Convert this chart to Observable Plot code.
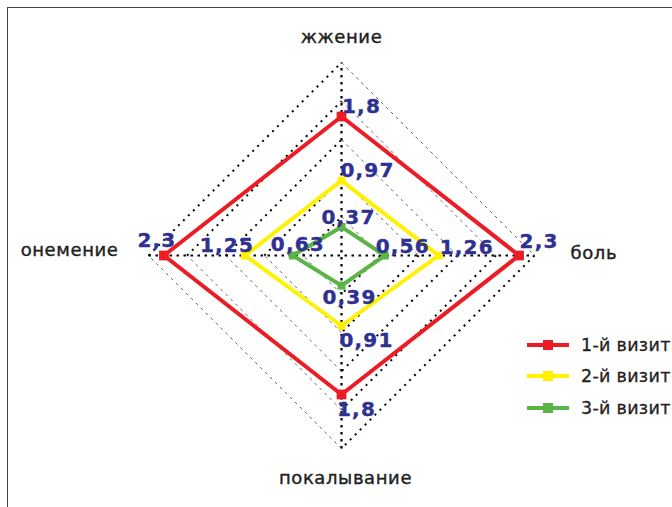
<!DOCTYPE html>
<html><head><meta charset="utf-8">
<script src="https://cdn.jsdelivr.net/npm/d3@7"></script>
<script src="https://cdn.jsdelivr.net/npm/@observablehq/plot@0.6"></script>
<style>
html,body{margin:0;padding:0;background:#fff;}
#wrap{position:relative;width:672px;height:507px;overflow:hidden;}
#frame{position:absolute;left:7px;top:7px;width:700px;height:540px;border:1.5px solid #444;box-sizing:border-box;}
#chart{position:absolute;left:0;top:0;}
#legend{position:absolute;left:527px;top:329px;font-family:"DejaVu Sans",sans-serif;font-size:17.5px;letter-spacing:0.3px;color:#231f20;-webkit-text-stroke:0.3px #231f20;}
.row{display:flex;align-items:center;height:31.5px;white-space:nowrap;}
.sw{position:relative;width:42px;height:4px;margin-right:12px;flex:none;}
.sw i{position:absolute;left:16px;top:-3px;width:10px;height:10px;}
.lbl text{letter-spacing:1.2px;}
.ax text{letter-spacing:0.6px;}
</style></head>
<body>
<div id="wrap"><div id="frame"></div><div id="chart"></div><div id="legend"></div></div>
<script>
const axes = ["жжение", "боль", "покалывание", "онемение"];
const series = ["1-й визит", "2-й визит", "3-й визит"];
const visit1 = [1.8, 2.3, 1.8, 2.3];
const visit2 = [0.97, 1.26, 0.91, 1.25];
const visit3 = [0.37, 0.56, 0.39, 0.63];
const rings = [0.5, 1, 1.5, 2, 2.5];
const colors = ["#ED1C24", "#FFF100", "#5BB546"];

const maxR = 2.5;
const dirs = [[0, 1], [1, 0], [0, -1], [-1, 0]]; // top, right, bottom, left
const values = [visit1, visit2, visit3];

const pts = [];
values.forEach((vals, s) => vals.forEach((v, i) => pts.push({series: series[s], s, i, v, x: dirs[i][0]*v, y: dirs[i][1]*v})));
const lineData = [];
values.forEach((vals, s) => {
  [0,1,2,3,0].forEach(i => lineData.push({series: series[s], x: dirs[i][0]*vals[i], y: dirs[i][1]*vals[i]}));
});

const heavySeg = [], lightSeg = [];
rings.forEach(r => {
  for (let i = 0; i < 4; i++) {
    const a = dirs[(i + 3) % 4], b = dirs[i];
    const seg = {x1: a[0]*r, y1: a[1]*r, x2: b[0]*r, y2: b[1]*r};
    if (i === 0 || i === 2) heavySeg.push(seg); else lightSeg.push(seg);
  }
});
const spokes = [{x1: 0, y1: -maxR, x2: 0, y2: maxR}, {x1: -maxR, y1: 0, x2: maxR, y2: 0}];

const labelLayout = [
  [[20,-10],[20,-14],[15,15],[-7,-15]],
  [[26,-10],[28,-8],[25,15],[-18,-10]],
  [[7,-9],[18,-9],[8,12],[5,-11]]
];
const fmt = v => String(v).replace(".", ",");

const marks = [
  Plot.link(lightSeg, {x1:"x1", y1:"y1", x2:"x2", y2:"y2", stroke:"#444", strokeWidth:0.8, strokeDasharray:"3,4"}),
  Plot.link(heavySeg, {x1:"x1", y1:"y1", x2:"x2", y2:"y2", stroke:"#000", strokeWidth:2, strokeDasharray:"2,5"}),
  Plot.link(spokes, {x1:"x1", y1:"y1", x2:"x2", y2:"y2", stroke:"#000", strokeWidth:2.2, strokeDasharray:"2.5,4.5"}),
];
series.forEach((name, s) => {
  marks.push(Plot.line(lineData.filter(d => d.series === name), {x:"x", y:"y", stroke: colors[s], strokeWidth:4, strokeLinejoin:"miter"}));
});
series.forEach((name, s) => {
  marks.push(Plot.dot(pts.filter(d => d.s === s), {x:"x", y:"y", symbol:"square", r: s === 0 ? 5.5 : 4.5, fill: colors[s], stroke: "none"}));
});
pts.forEach(d => {
  const [dx, dy] = labelLayout[d.s][d.i];
  marks.push(Plot.text([d], {x:"x", y:"y", text: e => fmt(e.v), dx, dy, fill:"#2E3192", stroke:"#2E3192", strokeWidth:0.4, fontSize:20, fontWeight:"bold", fontFamily:"DejaVu Sans", textAnchor:"middle", className:"lbl"}));
});
const axisLayout = [[0,-25,"middle"],[36,-2,"start"],[4,30,"middle"],[-30,-5,"end"]];
axes.forEach((name, i) => {
  const [dx, dy, anchor] = axisLayout[i];
  marks.push(Plot.text([{x: dirs[i][0]*maxR, y: dirs[i][1]*maxR, t: name}], {x:"x", y:"y", text:"t", dx, dy, textAnchor: anchor, fill:"#231f20", stroke:"#231f20", strokeWidth:0.4, fontSize:18, fontFamily:"DejaVu Sans", className:"ax"}));
});

const chart = Plot.plot({
  width: 672, height: 507,
  margin: 0,
  x: {domain: [-maxR, maxR], range: [341 - 193, 341 + 193], axis: null},
  y: {domain: [-maxR, maxR], range: [255 + 193, 255 - 193], axis: null},
  style: {background: "transparent", overflow: "visible"},
  marks
});
document.getElementById("chart").appendChild(chart);

const leg = document.getElementById("legend");
series.forEach((name, s) => {
  const row = document.createElement("div");
  row.className = "row";
  row.innerHTML = `<div class="sw" style="background:${colors[s]}"><i style="background:${colors[s]}"></i></div><span>${name}</span>`;
  leg.appendChild(row);
});
</script>
</body></html>
